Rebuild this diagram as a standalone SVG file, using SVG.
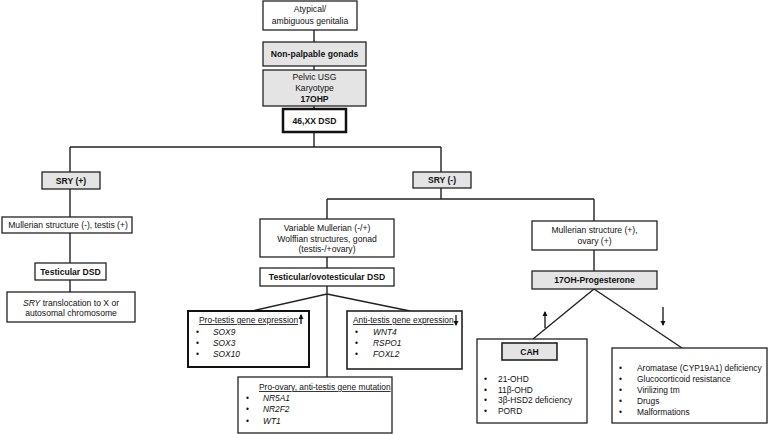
<svg xmlns="http://www.w3.org/2000/svg" width="768" height="434" viewBox="0 0 768 434">
<defs>
<marker id="ah" viewBox="0 0 10 10" refX="8" refY="5" markerWidth="4" markerHeight="4" orient="auto-start-reverse">
<path d="M0,0 L10,5 L0,10 z" fill="#111"/>
</marker>
<style>
.b{fill:#fff;stroke:#222;stroke-width:1.3}
.g{fill:#e4e4e4;stroke:#222;stroke-width:1.3}
.t{font-family:"Liberation Sans",Arial,sans-serif;font-size:8.6px;fill:#111;text-anchor:middle}
.tl{font-family:"Liberation Sans",Arial,sans-serif;font-size:8.4px;fill:#111}
.bd{font-weight:bold}
.it{font-style:italic}
.u{text-decoration:underline}
.c{fill:none;stroke:#222;stroke-width:1.4}
.ar{fill:none;stroke:#111;stroke-width:1.3}
</style>
</defs>
<rect width="768" height="434" fill="#fff"/>

<g id="connectors">
<path class="c" d="M314,30V42 M314,66V70 M314,106V109 M314,132V147 M70,147H441 M70,147V172 M441,147V172 M70,189V217 M70,233V263 M70,280V292 M441,188V199 M327,199H594 M327,199V219 M594,199V221 M327,257V268 M327,286V377 M327,294L252,311 M327,294L410,311 M594,250V271 M594,289L533,339 M594,289L682,348"/>
</g>

<g id="n-atypical">
<rect class="b" x="263" y="1" width="94" height="29"/>
<text class="t" x="310" y="12" font-size="9">Atypical/</text>
<text class="t" x="310" y="24" font-size="9">ambiguous genitalia</text>
</g>
<g id="n-nonpalpable">
<rect class="g" x="263" y="42" width="103" height="24"/>
<text class="t bd" x="314.5" y="57" font-size="9">Non-palpable gonads</text>
</g>
<g id="n-pelvic">
<rect class="g" x="263" y="70" width="103" height="36"/>
<text class="t" x="314.5" y="80" font-size="9">Pelvic USG</text>
<text class="t" x="314.5" y="91" font-size="9">Karyotype</text>
<text class="t bd" x="314.5" y="102" font-size="9">17OHP</text>
</g>
<g id="n-46xx">
<rect x="283" y="109" width="63" height="23" fill="#fff" stroke="#111" stroke-width="2.5"/>
<text class="t bd" x="314.5" y="124" font-size="10">46,XX DSD</text>
</g>

<g id="n-sry-pos">
<rect class="g" x="42" y="172" width="58" height="17"/>
<text class="t bd" x="71" y="183.5" font-size="7.5">SRY (+)</text>
</g>
<g id="n-mull-neg">
<rect class="b" x="2" y="217" width="130" height="16"/>
<text class="t" x="68" y="228">Mullerian structure  (-), testis (+)</text>
</g>
<g id="n-testicular">
<rect class="b" x="35" y="263" width="71" height="17"/>
<text class="t bd" x="70.5" y="274.5" font-size="8">Testicular DSD</text>
</g>
<g id="n-sry-trans">
<rect class="b" x="7" y="292" width="128" height="30"/>
<text class="t" x="71" y="305.5"><tspan class="it">SRY</tspan> translocation to X or</text>
<text class="t" x="71" y="316">autosomal chromosome</text>
</g>

<g id="n-sry-neg">
<rect class="g" x="413" y="172" width="58" height="16"/>
<text class="t bd" x="442" y="183" font-size="7.5">SRY (-)</text>
</g>
<g id="n-var-mull">
<rect class="b" x="260" y="219" width="134" height="38"/>
<text class="t" x="327" y="231">Variable Mullerian (-/+)</text>
<text class="t" x="327" y="241.5">Wolffian structures, gonad</text>
<text class="t" x="327" y="252">(testis-/+ovary)</text>
</g>
<g id="n-ovotesticular">
<rect class="b" x="260" y="268" width="134" height="18"/>
<text class="t bd" x="327" y="280" font-size="8">Testicular/ovotesticular  DSD</text>
</g>
<g id="n-pro-testis">
<rect x="188" y="311" width="121" height="56" fill="#fff" stroke="#111" stroke-width="2"/>
<text class="tl u" x="199" y="323">Pro-testis gene expression</text>
<line class="ar" x1="301" y1="324" x2="301" y2="315" marker-end="url(#ah)"/>
<text class="tl" x="196" y="334.5">•</text><text class="tl it" x="213" y="334.5">SOX9</text>
<text class="tl" x="196" y="345.5">•</text><text class="tl it" x="213" y="345.5">SOX3</text>
<text class="tl" x="196" y="357">•</text><text class="tl it" x="213" y="357">SOX10</text>
</g>
<g id="n-anti-testis">
<rect x="347" y="311" width="115" height="58" fill="#fff" stroke="#222" stroke-width="1.6"/>
<text class="tl u" x="353" y="323">Anti-testis gene expression</text>
<line class="ar" x1="456" y1="315" x2="456" y2="325" marker-end="url(#ah)"/>
<text class="tl" x="355" y="334.5">•</text><text class="tl it" x="373" y="334.5">WNT4</text>
<text class="tl" x="355" y="345.5">•</text><text class="tl it" x="373" y="345.5">RSPO1</text>
<text class="tl" x="355" y="357">•</text><text class="tl it" x="373" y="357">FOXL2</text>
</g>
<g id="n-pro-ovary">
<rect class="b" x="238" y="377" width="154" height="56"/>
<text class="tl u" x="259" y="390">Pro-ovary, anti-testis gene mutation</text>
<text class="tl" x="246" y="401">•</text><text class="tl it" x="263" y="401">NR5A1</text>
<text class="tl" x="246" y="412">•</text><text class="tl it" x="263" y="412">NR2F2</text>
<text class="tl" x="246" y="424">•</text><text class="tl it" x="263" y="424">WT1</text>
</g>

<g id="n-mull-pos">
<rect class="b" x="532" y="221" width="125" height="29"/>
<text class="t" x="594.5" y="233">Mullerian structure (+),</text>
<text class="t" x="594.5" y="244">ovary (+)</text>
</g>
<g id="n-17oh">
<rect class="g" x="532" y="271" width="125" height="18"/>
<text class="t bd" x="594.5" y="283" font-size="8">17OH-Progesterone</text>
</g>
<g id="indicators">
<line class="ar" x1="545" y1="328" x2="545" y2="312" marker-end="url(#ah)"/>
<line class="ar" x1="663" y1="307" x2="663" y2="325" marker-end="url(#ah)"/>
</g>
<g id="n-cah">
<rect class="b" x="477" y="339" width="110" height="84"/>
<rect x="502" y="343" width="55" height="17" fill="#e4e4e4" stroke="#222" stroke-width="1.6"/>
<text class="t bd" x="529.5" y="355" font-size="8">CAH</text>
<text class="tl" x="484" y="382">•</text><text class="tl" x="498" y="382">21-OHD</text>
<text class="tl" x="484" y="392.5">•</text><text class="tl" x="498" y="392.5">11β-OHD</text>
<text class="tl" x="484" y="403">•</text><text class="tl" x="498" y="403">3β-HSD2 deficiency</text>
<text class="tl" x="484" y="414">•</text><text class="tl" x="498" y="414">PORD</text>
</g>
<g id="n-other">
<rect class="b" x="612" y="348" width="155" height="75"/>
<text class="tl" x="619" y="371">•</text><text class="tl" x="637" y="371">Aromatase (CYP19A1) deficiency</text>
<text class="tl" x="619" y="382">•</text><text class="tl" x="637" y="382">Glucocorticoid resistance</text>
<text class="tl" x="619" y="393">•</text><text class="tl" x="637" y="393">Virilizing tm</text>
<text class="tl" x="619" y="404">•</text><text class="tl" x="637" y="404">Drugs</text>
<text class="tl" x="619" y="415">•</text><text class="tl" x="637" y="415">Malformations</text>
</g>
</svg>
